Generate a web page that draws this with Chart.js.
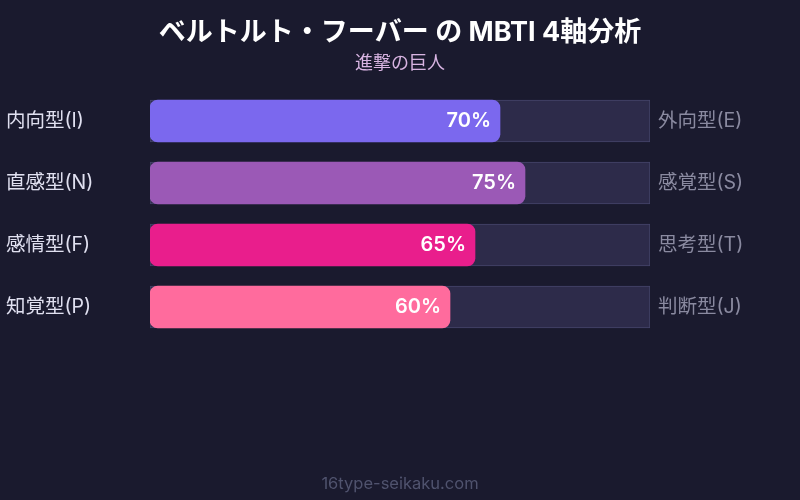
<!DOCTYPE html>
<html lang="ja">
<head>
<meta charset="utf-8">
<script src="https://cdn.jsdelivr.net/npm/chart.js@4"></script>
<style>
  html, body { margin: 0; padding: 0; background: #1a1a2e; }
  #wrap { position: relative; width: 800px; height: 500px; }
</style>
</head>
<body>
<div id="wrap"><canvas id="chart" width="800" height="500"></canvas></div>
<script>
(() => {
  const leftLabels = ["内向型(I)", "直感型(N)", "感情型(F)", "知覚型(P)"];
  const rightLabels = ["外向型(E)", "感覚型(S)", "思考型(T)", "判断型(J)"];
  const scores = [70, 75, 65, 60];
  const track = [100, 100, 100, 100];
  const barColors = ["#7b68ee", "#9b59b6", "#e91e8c", "#ff6b9d"];

  const FONT = "Inter, 'Noto Sans CJK JP', sans-serif";

  // percentage text inside the end of each filled bar
  const valueLabels = {
    id: "valueLabels",
    afterDatasetsDraw(chart) {
      const { ctx } = chart;
      const meta = chart.getDatasetMeta(0);
      ctx.save();
      ctx.font = `600 20px ${FONT}`;
      ctx.fillStyle = "#ffffff";
      ctx.textAlign = "right";
      ctx.textBaseline = "middle";
      meta.data.forEach((bar, i) => {
        ctx.fillText(`${scores[i]}%`, bar.x - 9, bar.y);
      });
      ctx.restore();
    },
  };

  const frame = {
    id: "frame",
    beforeDraw(chart) {
      const c = chart.ctx;
      c.save();
      c.fillStyle = "#1a1a2e";
      c.fillRect(0, 0, chart.width, chart.height);
      c.textAlign = "center";
      c.textBaseline = "middle";
      c.fillStyle = "#ffffff";
      c.font = `bold 27px ${FONT}`;
      c.fillText("ベルトルト・フーバー の MBTI 4軸分析", 400, 33);
      c.fillStyle = "#d8b4e2";
      c.font = `18px ${FONT}`;
      c.fillText("進撃の巨人", 400, 64);
      c.fillStyle = "#50536e";
      c.font = `16.5px ${FONT}`;
      c.fillText("16type-seikaku.com", 400, 484);
      c.restore();
    },
  };

  const ctx = document.getElementById("chart").getContext("2d");
  new Chart(ctx, {
    type: "bar",
    data: {
      labels: leftLabels,
      datasets: [
        {
          data: scores,
          backgroundColor: barColors,
          borderRadius: 8,
          borderSkipped: false,
          barThickness: 42,
          grouped: false,
        },
        {
          data: track,
          backgroundColor: "#2d2b4a",
          borderColor: "#45456a",
          borderWidth: 1,
          borderSkipped: false,
          barThickness: 42,
          grouped: false,
        },
      ],
    },
    options: {
      indexAxis: "y",
      animation: false,
      responsive: false,
      layout: { padding: { top: 90, bottom: 162, left: 6, right: 0 } },
      plugins: {
        legend: { display: false },
        tooltip: { enabled: false },
      },
      scales: {
        x: { min: 0, max: 100, display: false },
        y: {
          position: "left",
          grid: { display: false, drawTicks: false },
          border: { display: false },
          ticks: {
            color: "#e0e0f0",
            crossAlign: "far",
            font: { family: FONT, size: 19.5 },
          },
          afterFit: (s) => { s.width = 144; },
        },
        y2: {
          position: "right",
          type: "category",
          labels: rightLabels,
          grid: { display: false, drawTicks: false },
          border: { display: false },
          ticks: {
            color: "#8a8aa0",
            padding: 8,
            font: { family: FONT, size: 19.5 },
          },
          afterFit: (s) => { s.width = 150; },
        },
      },
    },
    plugins: [frame, valueLabels],
  });
})();
</script>
</body>
</html>
